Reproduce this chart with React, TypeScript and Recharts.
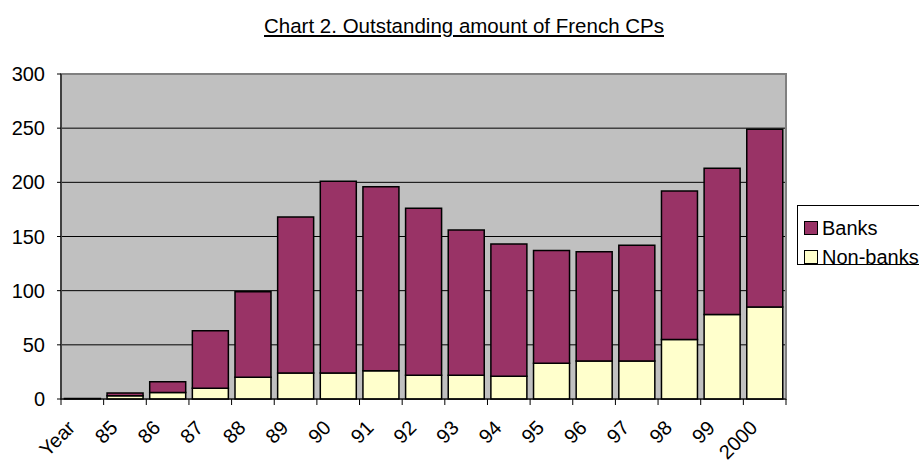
import { BarChart, Bar, XAxis, YAxis, CartesianGrid, ReferenceArea } from "recharts";

// values (amount outstanding)
const years = ["Year", "85", "86", "87", "88", "89", "90", "91", "92", "93", "94", "95", "96", "97", "98", "99", "2000"];
const nonBanks = [0, 3, 6, 10, 20, 24, 24, 26, 22, 22, 21, 33, 35, 35, 55, 78, 85];
const banks = [0.5, 2.5, 10, 53, 79, 144, 177, 170, 154, 134, 122, 104, 101, 107, 137, 135, 164];
const yTicks = [0, 50, 100, 150, 200, 250, 300];

const data = years.map((year, i) => ({ year, nonBanks: nonBanks[i], banks: banks[i] }));

const W = 919;
const H = 461;
const MARGIN = { top: 74, right: 133, left: 0, bottom: 0 };
const Y_AXIS_W = 61;
const BAND = (W - MARGIN.left - MARGIN.right - Y_AXIS_W) / years.length;
const FONT = "'Liberation Sans', Arial, sans-serif";

const BANKS_COLOR = "#993366";
const NONBANKS_COLOR = "#FFFFCC";

function XTick(props: any) {
  const { x, y, payload, index } = props;
  const half = BAND / 2;
  const tx = x - 6;
  const ty = y + 30;
  return (
    <g>
      <line x1={x - half} x2={x - half} y1={y} y2={y + 6} stroke="#000" />
      {index === years.length - 1 && (
        <line x1={x + half} x2={x + half} y1={y} y2={y + 6} stroke="#000" />
      )}
      <text
        x={tx}
        y={ty}
        textAnchor="end"
        transform={`rotate(-45 ${tx} ${ty})`}
        fontSize={20}
        fontFamily={FONT}
        fill="#000"
      >
        {payload.value}
      </text>
    </g>
  );
}

function LegendBox() {
  const rows = [
    { label: "Banks", color: BANKS_COLOR, top: 10 },
    { label: "Non-banks", color: NONBANKS_COLOR, top: 39 },
  ];
  return (
    <div
      style={{
        position: "absolute",
        left: 797,
        top: 205,
        width: 150,
        height: 58,
        border: "1px solid #000",
        background: "#fff",
        fontFamily: FONT,
        fontSize: 20,
      }}
    >
      {rows.map((r) => (
        <div key={r.label} style={{ position: "absolute", left: 6, top: r.top, height: 24, display: "flex", alignItems: "center" }}>
          <span
            style={{
              display: "inline-block",
              width: 12,
              height: 12,
              border: "1.5px solid #000",
              background: r.color,
              marginRight: 4,
            }}
          />
          <span style={{ lineHeight: "24px" }}>{r.label}</span>
        </div>
      ))}
    </div>
  );
}

export default function App() {
  return (
    <div style={{ position: "absolute", left: 0, top: 0, width: W, height: H, overflow: "hidden", background: "#fff" }}>
      <div
        style={{
          position: "absolute",
          left: 0,
          top: 14,
          width: 928,
          textAlign: "center",
          fontFamily: FONT,
          fontSize: 20.5,
          lineHeight: "24px",
          textDecoration: "underline",
        }}
      >
        Chart 2. Outstanding amount of French CPs
      </div>
      <BarChart width={W} height={H} data={data} margin={MARGIN} barCategoryGap="8%">
        <CartesianGrid vertical={false} stroke="#000" fill="#C0C0C0" />
        <ReferenceArea y1={0} y2={300} fill="none" stroke="#808080" strokeWidth={2} />
        <XAxis
          dataKey="year"
          interval={0}
          height={62}
          tickSize={0}
          tickMargin={0}
          tickLine={false}
          axisLine={{ stroke: "#000" }}
          tick={<XTick />}
        />
        <YAxis
          width={Y_AXIS_W}
          domain={[0, 300]}
          ticks={yTicks}
          tickSize={4}
          tickMargin={12}
          axisLine={{ stroke: "#000" }}
          tickLine={{ stroke: "#000" }}
          tick={{ fontSize: 20, fill: "#000", fontFamily: FONT }}
        />
        <Bar dataKey="nonBanks" stackId="a" fill={NONBANKS_COLOR} stroke="#000" strokeWidth={1.5} isAnimationActive={false} />
        <Bar dataKey="banks" stackId="a" fill={BANKS_COLOR} stroke="#000" strokeWidth={1.5} isAnimationActive={false} />
      </BarChart>
      <LegendBox />
    </div>
  );
}
